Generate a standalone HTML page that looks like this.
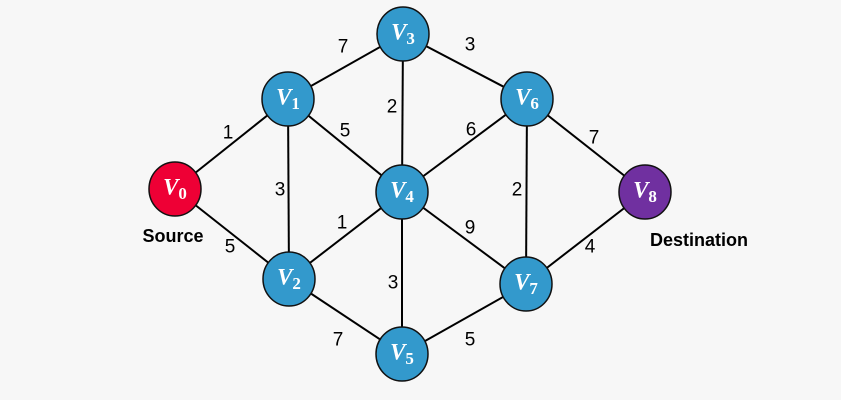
<!DOCTYPE html>
<html><head><style>
html,body{margin:0;padding:0;background:#f7f7f7;}
svg{display:block}
.w{font:19px "Liberation Sans",sans-serif;fill:#000;text-anchor:middle;dominant-baseline:central}
.n{font:bold italic 23px "Liberation Serif",serif;fill:#fff;text-anchor:middle;dominant-baseline:central}
.s{font-size:17px;font-style:normal}
.t{font:bold 18px "Liberation Sans",sans-serif;fill:#000;text-anchor:middle;dominant-baseline:central}
</style></head><body>
<svg width="841" height="400" viewBox="0 0 841 400">
<rect width="841" height="400" fill="#f7f7f7"/>
<g stroke="#000" stroke-width="2">
<line x1="175" y1="189" x2="288" y2="99"/>
<line x1="175" y1="189" x2="289" y2="279"/>
<line x1="288" y1="99" x2="403" y2="34"/>
<line x1="288" y1="99" x2="402" y2="192"/>
<line x1="288" y1="99" x2="289" y2="279"/>
<line x1="403" y1="34" x2="402" y2="192"/>
<line x1="403" y1="34" x2="527" y2="99"/>
<line x1="527" y1="99" x2="402" y2="192"/>
<line x1="527" y1="99" x2="645" y2="192"/>
<line x1="527" y1="99" x2="526" y2="284"/>
<line x1="402" y1="192" x2="289" y2="279"/>
<line x1="402" y1="192" x2="526" y2="284"/>
<line x1="402" y1="192" x2="402" y2="354"/>
<line x1="289" y1="279" x2="402" y2="354"/>
<line x1="402" y1="354" x2="526" y2="284"/>
<line x1="526" y1="284" x2="645" y2="192"/>
</g>
<g stroke="#111" stroke-width="1.5">
<ellipse cx="175" cy="189" rx="26" ry="27" fill="#ee0035"/>
<ellipse cx="288" cy="99" rx="26" ry="27" fill="#3399cc"/>
<ellipse cx="403" cy="34" rx="26" ry="27" fill="#3399cc"/>
<ellipse cx="527" cy="99" rx="26" ry="27" fill="#3399cc"/>
<ellipse cx="402" cy="192" rx="26" ry="27" fill="#3399cc"/>
<ellipse cx="645" cy="192" rx="26" ry="27" fill="#7030a0"/>
<ellipse cx="289" cy="279" rx="26" ry="27" fill="#3399cc"/>
<ellipse cx="526" cy="284" rx="26" ry="27" fill="#3399cc"/>
<ellipse cx="402" cy="354" rx="26" ry="27" fill="#3399cc"/>
</g>
<text class="n" x="175" y="187">V<tspan class="s" dy="6">0</tspan></text>
<text class="n" x="288" y="97">V<tspan class="s" dy="6">1</tspan></text>
<text class="n" x="403" y="32">V<tspan class="s" dy="6">3</tspan></text>
<text class="n" x="527" y="97">V<tspan class="s" dy="6">6</tspan></text>
<text class="n" x="402" y="190">V<tspan class="s" dy="6">4</tspan></text>
<text class="n" x="645" y="190">V<tspan class="s" dy="6">8</tspan></text>
<text class="n" x="289" y="277">V<tspan class="s" dy="6">2</tspan></text>
<text class="n" x="526" y="282">V<tspan class="s" dy="6">7</tspan></text>
<text class="n" x="402" y="352">V<tspan class="s" dy="6">5</tspan></text>
<text class="w" x="343" y="47">7</text>
<text class="w" x="470" y="45">3</text>
<text class="w" x="228" y="133">1</text>
<text class="w" x="345" y="131">5</text>
<text class="w" x="392" y="107">2</text>
<text class="w" x="471" y="130">6</text>
<text class="w" x="594" y="138">7</text>
<text class="w" x="280" y="190">3</text>
<text class="w" x="517" y="190">2</text>
<text class="w" x="342" y="223">1</text>
<text class="w" x="470" y="228">9</text>
<text class="w" x="230" y="247">5</text>
<text class="w" x="590" y="247">4</text>
<text class="w" x="393" y="283">3</text>
<text class="w" x="338" y="340">7</text>
<text class="w" x="470" y="340">5</text>
<text class="t" x="173" y="236">Source</text>
<text class="t" x="699" y="240">Destination</text>
</svg>
</body></html>
